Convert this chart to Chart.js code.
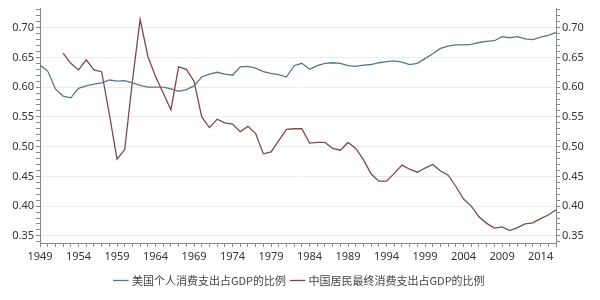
<!DOCTYPE html>
<html>
<head>
<meta charset="utf-8">
<script src="https://cdn.jsdelivr.net/npm/chart.js@4/dist/chart.umd.min.js"></script>
<style>
  html, body { margin: 0; padding: 0; background: #fff; }
  #wrap { width: 600px; height: 300px; position: relative; }
</style>
</head>
<body>
<div id="wrap"><canvas id="chart"></canvas></div>
<script>
const years = [];
for (let y = 1949; y <= 2016; y++) years.push(String(y));

// 美国个人消费支出占GDP的比例, 1949-2016
const usValues = [
  0.637, 0.627, 0.597, 0.585, 0.582, 0.598, 0.602, 0.605, 0.607, 0.612,
  0.610, 0.611, 0.607, 0.603, 0.600, 0.600, 0.600, 0.597, 0.593, 0.596,
  0.602, 0.617, 0.622, 0.625, 0.622, 0.620, 0.634, 0.635, 0.632, 0.626,
  0.623, 0.621, 0.617, 0.636, 0.640, 0.630, 0.636, 0.640, 0.641, 0.640,
  0.636, 0.635, 0.637, 0.638, 0.641, 0.643, 0.644, 0.642, 0.638, 0.640,
  0.648, 0.656, 0.665, 0.669, 0.671, 0.671, 0.672, 0.675, 0.677, 0.678,
  0.685, 0.683, 0.685, 0.681, 0.680, 0.684, 0.687, 0.692
];

// 中国居民最终消费支出占GDP的比例, 1949-2016 (no data before 1952)
const cnValues = [
  null, null, null, 0.657, 0.640, 0.629, 0.646, 0.629, 0.626, 0.555,
  0.479, 0.495, 0.610, 0.714, 0.652, 0.618, 0.590, 0.562, 0.634, 0.630,
  0.610, 0.550, 0.532, 0.546, 0.540, 0.538, 0.525, 0.534, 0.522, 0.488,
  0.491, 0.510, 0.529, 0.530, 0.530, 0.506, 0.507, 0.507, 0.497, 0.494,
  0.507, 0.497, 0.478, 0.454, 0.442, 0.442, 0.455, 0.469, 0.462, 0.457,
  0.464, 0.470, 0.459, 0.452, 0.433, 0.412, 0.400, 0.382, 0.371, 0.363,
  0.365, 0.359, 0.364, 0.370, 0.372, 0.379, 0.385, 0.394
];

const yMin = 0.338;
const yMax = 0.732;
const tickFont = { family: "'Noto Sans', 'DejaVu Sans', sans-serif", size: 11 };
const textColor = '#333';
const axisColor = '#8a8a8a';

function isMajor(v) {
  return Math.abs(v * 20 - Math.round(v * 20)) < 1e-6;
}

function buildYTicks(scale) {
  const ticks = [];
  for (let i = 34; i <= 73; i++) ticks.push({ value: i / 100 });
  scale.ticks = ticks;
}

function yAxis(position, width) {
  return {
    type: 'linear',
    position: position,
    min: yMin,
    max: yMax,
    afterBuildTicks: buildYTicks,
    afterFit: (scale) => { scale.width = width; },
    border: { display: true, color: axisColor, width: 1 },
    grid: {
      drawOnChartArea: position === 'left',
      color: (ctx) => isMajor(ctx.tick.value) ? '#ececec' : 'rgba(0,0,0,0)',
      tickColor: axisColor,
      tickLength: 4,
    },
    ticks: {
      autoSkip: false,
      color: textColor,
      font: tickFont,
      padding: 2,
      callback: (v) => isMajor(v) ? v.toFixed(2) : '',
    },
  };
}

new Chart(document.getElementById('chart'), {
  type: 'line',
  data: {
    labels: years,
    datasets: [
      {
        label: '美国个人消费支出占GDP的比例',
        data: usValues,
        borderColor: '#5a7684',
        backgroundColor: '#5a7684',
        borderWidth: 1.3,
        pointRadius: 0,
        tension: 0,
        yAxisID: 'y',
      },
      {
        label: '中国居民最终消费支出占GDP的比例',
        data: cnValues,
        borderColor: '#7a4a4e',
        backgroundColor: '#7a4a4e',
        borderWidth: 1.3,
        pointRadius: 0,
        tension: 0,
        yAxisID: 'y',
      },
    ],
  },
  options: {
    responsive: true,
    maintainAspectRatio: false,
    animation: false,
    layout: { padding: { top: 7, bottom: 4, left: 0, right: 0 } },
    plugins: {
      legend: {
        position: 'bottom',
        labels: {
          usePointStyle: true,
          pointStyle: 'line',
          boxWidth: 24,
          color: '#444',
          padding: 6,
          font: { family: "'Noto Sans CJK SC', sans-serif", size: 11 },
        },
      },
      tooltip: { enabled: false },
    },
    scales: {
      x: {
        type: 'category',
        offset: false,
        afterFit: (scale) => { scale.height = 26; },
        border: { display: true, color: axisColor, width: 1 },
        grid: {
          drawOnChartArea: false,
          tickColor: axisColor,
          tickLength: 4,
        },
        ticks: {
          autoSkip: false,
          maxRotation: 0,
          color: textColor,
          font: tickFont,
          padding: 3,
          callback: function(value, index) {
            return index % 5 === 0 ? this.getLabelForValue(value) : '';
          },
        },
      },
      y: yAxis('left', 40),
      y2: yAxis('right', 44),
    },
  },
});
</script>
</body>
</html>
